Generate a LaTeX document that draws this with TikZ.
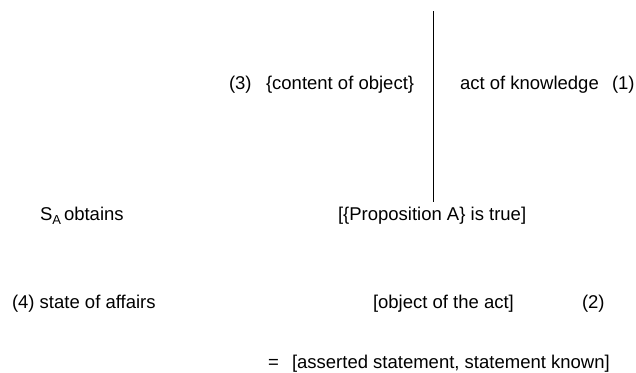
\documentclass[tikz,border=0pt]{standalone}
\usepackage{fontspec}
\setmainfont{Liberation Sans}
\begin{document}
\begin{tikzpicture}[x=1bp,y=-1bp,
  lbl/.style={anchor=base west,inner sep=0pt,outer sep=0pt,font=\fontsize{18.5bp}{22bp}\selectfont},
  rule/.style={draw=black,line width=1bp}]
\useasboundingbox (0,0) rectangle (636,372);
% row 1
\node[lbl] (n3) at (229,89) {(3)};
\node[lbl] (content) at (266,89) {\{content of object\}};
\node[lbl] (act) at (460,89) {act of knowledge};
\node[lbl] (n1) at (612,89) {(1)};
% vertical line
\coordinate (ltop) at (433,11);
\coordinate (lbot) at (433,202);
\draw[rule] (ltop) -- (lbot);
% row 2
\node[lbl] (sa) at (40,220) {S\raisebox{-4bp}{\fontsize{13bp}{13bp}\selectfont A}\hspace{3bp}obtains};
\node[lbl] (prop) at (338,220) {[\{Proposition A\} is true]};
% row 3
\node[lbl] (state) at (12,308) {(4) state of affairs};
\node[lbl] (obj) at (373,308) {[object of the act]};
\node[lbl] (n2) at (582,308) {(2)};
% row 4
\node[lbl] (eq) at (268,368) {=};
\node[lbl] (asserted) at (292,368) {[asserted statement, statement known]};
\end{tikzpicture}
\end{document}
